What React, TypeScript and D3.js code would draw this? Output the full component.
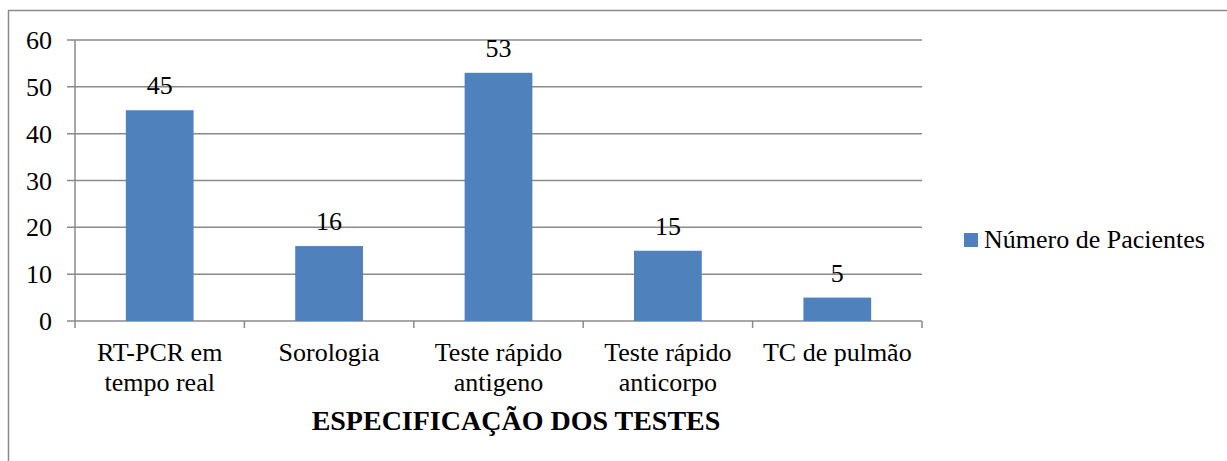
import React from "react";
import * as d3 from "d3";

const categories: string[][] = [
  ["RT-PCR em", "tempo real"],
  ["Sorologia"],
  ["Teste rápido", "antigeno"],
  ["Teste rápido", "anticorpo"],
  ["TC de pulmão"],
];
const values: number[] = [45, 16, 53, 15, 5];
const yTicks: number[] = [0, 10, 20, 30, 40, 50, 60];
const seriesName = "Número de Pacientes";
const axisTitle = "ESPECIFICAÇÃO DOS TESTES";

const W = 1227;
const H = 461;
const FONT = "Liberation Serif, Tinos, Times New Roman, Times, serif";
const BAR = "#4F81BD";
const GRID = "#8a8a8a";

export default function App() {
  const x0 = 75, x1 = 922, yTop = 40, yBot = 321;
  const x = d3.scaleBand<number>().domain(values.map((_, i) => i)).range([x0, x1]).padding(0);
  const y = d3.scaleLinear().domain([0, 60]).range([yBot, yTop]);
  const step = x.step();
  const bw = step * 0.4;
  const boundaries = d3.range(values.length + 1).map((i) => x0 + i * step);

  return (
    <svg width={W} height={H} style={{ position: "absolute", left: 0, top: 0, display: "block" }}>
      <rect x={0} y={0} width={W} height={H} fill="#fff" />
      <rect x={8.5} y={10.5} width={W + 20} height={H + 20} fill="none" stroke={GRID} strokeWidth={1.5} />
      {yTicks.map((t) => (
        <g key={t}>
          <line x1={67} x2={x1} y1={y(t)} y2={y(t)} stroke={GRID} strokeWidth={1.5} />
          <text x={52} y={y(t) + 9} textAnchor="end" fontFamily={FONT} fontSize={26} fill="#000">
            {String(t)}
          </text>
        </g>
      ))}
      <line x1={x0} x2={x0} y1={yTop} y2={yBot} stroke={GRID} strokeWidth={1.5} />
      {boundaries.map((b, i) => (
        <line key={i} x1={b} x2={b} y1={yBot} y2={yBot + 7} stroke={GRID} strokeWidth={1.5} />
      ))}
      {values.map((v, i) => {
        const cx = (x(i) as number) + step / 2;
        return (
          <g key={i}>
            <rect x={cx - bw / 2} y={y(v)} width={bw} height={yBot - y(v)} fill={BAR} />
            <text x={cx} y={y(v) - 16} textAnchor="middle" fontFamily={FONT} fontSize={26} fill="#000">
              {String(v)}
            </text>
            {categories[i].map((line, j) => (
              <text key={j} x={cx} y={361 + j * 30} textAnchor="middle" fontFamily={FONT} fontSize={26} fill="#000">
                {line}
              </text>
            ))}
          </g>
        );
      })}
      <text x={516} y={430} textAnchor="middle" fontFamily={FONT} fontSize={28} fontWeight="bold" fill="#000">
        {axisTitle}
      </text>
      <rect x={964} y={233} width={14} height={14} fill={BAR} />
      <text x={984} y={248} fontFamily={FONT} fontSize={26} fill="#000">
        {seriesName}
      </text>
    </svg>
  );
}
